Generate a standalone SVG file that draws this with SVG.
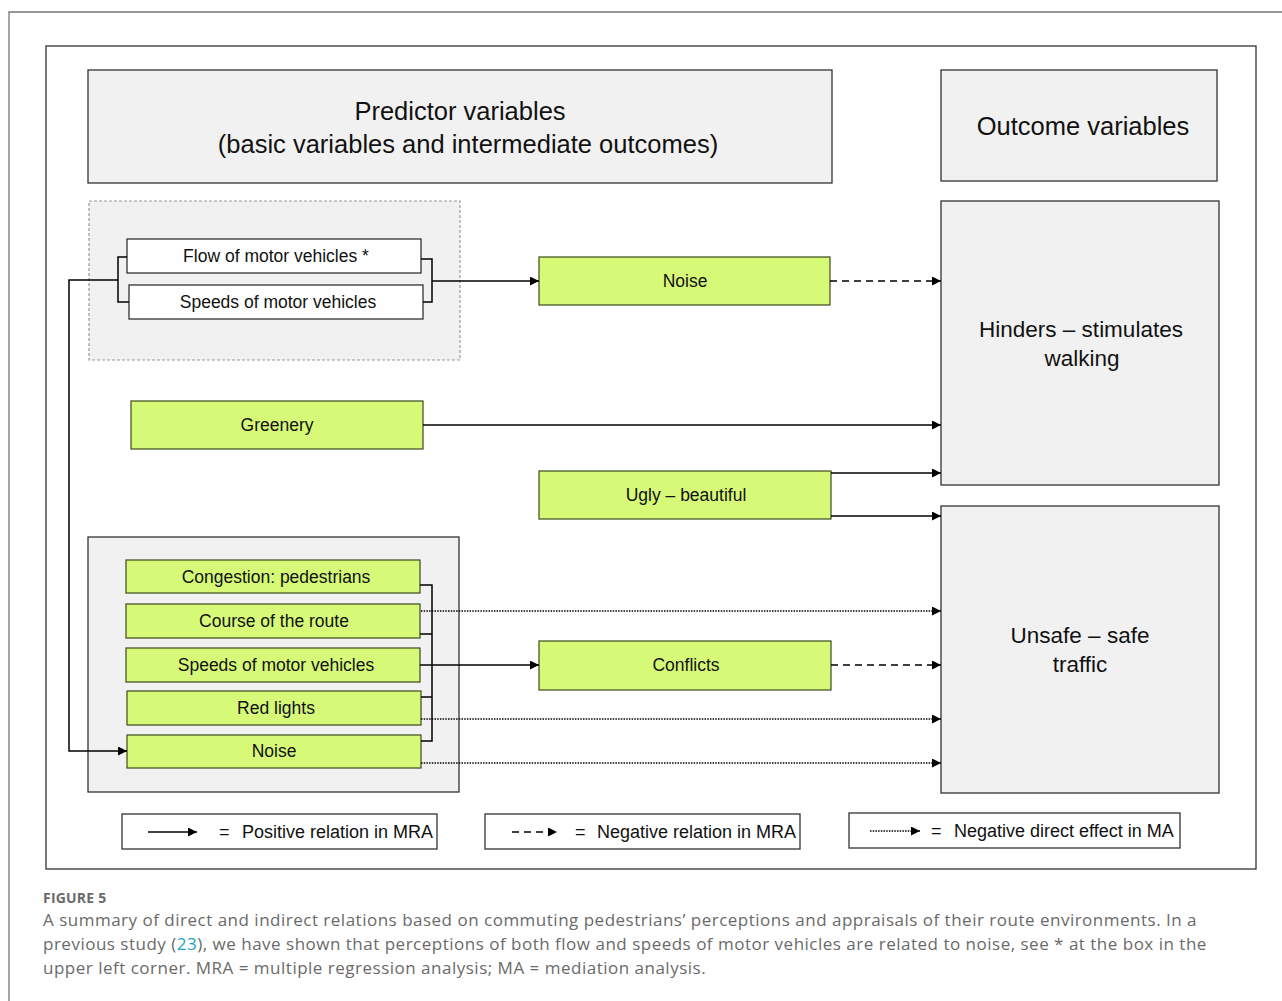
<svg xmlns="http://www.w3.org/2000/svg" width="1282" height="1001" viewBox="0 0 1282 1001">
<style>
.box{fill:#f1f1f1;stroke:#333;stroke-width:1.3}
.wbox{fill:#fff;stroke:#333;stroke-width:1.3}
.gbox{fill:#d6fa78;stroke:#3c4a1c;stroke-width:1.2}
.t{font-family:"Liberation Sans",Arial,sans-serif;fill:#111;text-anchor:middle}
.big{font-size:25.5px}
.mid{font-size:22.5px}
.n{font-size:17.5px}
.leg{font-size:18px;text-anchor:start}
.cap{font-family:"Open Sans","Liberation Sans",sans-serif;fill:#6a6a6a;font-size:17px;letter-spacing:0.5px}
.ln{fill:none;stroke:#000;stroke-width:1.5}
.dash{stroke-dasharray:7 5}
.dot{stroke-dasharray:1.5 1.2;stroke-width:1.3}
</style>
<defs>
<marker id="ah" viewBox="0 0 10 10" refX="10" refY="5" markerWidth="10" markerHeight="9" markerUnits="userSpaceOnUse" orient="auto">
<path d="M0,0 L10,5 L0,10 z" fill="#000"/>
</marker>
</defs>
<rect width="1282" height="1001" fill="#fff"/>
<path d="M9,1001 V12 H1282" fill="none" stroke="#777" stroke-width="1.3"/>
<rect x="46" y="46" width="1210" height="823" fill="#fff" stroke="#333" stroke-width="1.3"/>

<g id="predictor-header"><rect class="box" x="88" y="70" width="744" height="113"/>
<text class="t big" x="460" y="120">Predictor variables</text>
<text class="t big" x="468" y="153">(basic variables and intermediate outcomes)</text></g>
<g id="outcome-header"><rect class="box" x="941" y="70" width="276" height="111"/>
<text class="t big" x="1083" y="135">Outcome variables</text></g>

<g id="vehicles-group"><rect x="89" y="201" width="371" height="159" fill="#f1f1f1" stroke="#999" stroke-width="1.2" stroke-dasharray="3 2"/></g>
<g id="flow"><rect class="wbox" x="127" y="239" width="294" height="34"/><text class="t n" x="276" y="262">Flow of motor vehicles *</text></g>
<g id="speeds1"><rect class="wbox" x="129" y="285" width="294" height="34"/><text class="t n" x="278" y="308">Speeds of motor vehicles</text></g>
<g id="noise1"><rect class="gbox" x="539" y="257" width="291" height="48"/><text class="t n" x="685" y="287">Noise</text></g>
<g id="hinders"><rect class="box" x="941" y="201" width="278" height="284"/>
<text class="t mid" x="1081" y="337">Hinders – stimulates</text><text class="t mid" x="1082" y="366">walking</text></g>
<g id="greenery"><rect class="gbox" x="131" y="401" width="292" height="48"/><text class="t n" x="277" y="431">Greenery</text></g>
<g id="ugly"><rect class="gbox" x="539" y="471" width="292" height="48"/><text class="t n" x="686" y="501">Ugly – beautiful</text></g>
<g id="unsafe"><rect class="box" x="941" y="506" width="278" height="287"/>
<text class="t mid" x="1080" y="643">Unsafe – safe</text><text class="t mid" x="1080" y="672">traffic</text></g>
<g id="traffic-group"><rect class="box" x="88" y="537" width="371" height="255"/></g>
<g id="congestion"><rect class="gbox" x="126" y="560" width="294" height="33"/><text class="t n" x="276" y="583">Congestion: pedestrians</text></g>
<g id="course"><rect class="gbox" x="126" y="604" width="294" height="34"/><text class="t n" x="274" y="627">Course of the route</text></g>
<g id="speeds2"><rect class="gbox" x="126" y="648" width="294" height="34"/><text class="t n" x="276" y="671">Speeds of motor vehicles</text></g>
<g id="redlights"><rect class="gbox" x="127" y="691" width="294" height="34"/><text class="t n" x="276" y="714">Red lights</text></g>
<g id="noise2"><rect class="gbox" x="127" y="735" width="294" height="33"/><text class="t n" x="274" y="757">Noise</text></g>
<g id="conflicts"><rect class="gbox" x="539" y="641" width="292" height="49"/><text class="t n" x="686" y="671">Conflicts</text></g>

<g id="connectors">
<path class="ln" d="M127,257 H118 V302 H129"/>
<path class="ln" d="M421,259 H432 V302 H423"/>
<path class="ln" d="M118,280 H69 V751 H127" marker-end="url(#ah)"/>
<path class="ln" d="M432,281 H539" marker-end="url(#ah)"/>
<path class="ln dash" d="M830,281 H941" marker-end="url(#ah)"/>
<path class="ln" d="M423,425 H941" marker-end="url(#ah)"/>
<path class="ln" d="M831,473 H941" marker-end="url(#ah)"/>
<path class="ln" d="M831,516 H941" marker-end="url(#ah)"/>
<path class="ln" d="M420,585 H432 V741 H421 M420,634 H432 M421,697 H432"/>
<path class="ln" d="M420,665 H539" marker-end="url(#ah)"/>
<path class="ln dash" d="M831,665 H941" marker-end="url(#ah)"/>
<path class="ln dot" d="M421,611 H941" marker-end="url(#ah)"/>
<path class="ln dot" d="M421,719 H941" marker-end="url(#ah)"/>
<path class="ln dot" d="M421,763 H941" marker-end="url(#ah)"/>
</g>

<g id="legend">
<rect class="wbox" x="122" y="814" width="315" height="35"/>
<path class="ln" d="M148,832 H197" marker-end="url(#ah)"/>
<text class="t leg" x="219" y="838">=</text>
<text class="t leg" x="242" y="838">Positive relation in MRA</text>
<rect class="wbox" x="485" y="814" width="315" height="35"/>
<path class="ln dash" d="M512,832 H557" marker-end="url(#ah)"/>
<text class="t leg" x="575" y="838">=</text>
<text class="t leg" x="597" y="838">Negative relation in MRA</text>
<rect class="wbox" x="849" y="813" width="331" height="35"/>
<path class="ln dot" d="M870,831 H920" marker-end="url(#ah)"/>
<text class="t leg" x="931" y="837">=</text>
<text class="t leg" x="954" y="837">Negative direct effect in MA</text>
</g>

<g id="caption">
<text class="cap" x="43" y="903" font-weight="bold" style="font-size:14px;letter-spacing:0.2px">FIGURE 5</text>
<text class="cap" x="43" y="926">A summary of direct and indirect relations based on commuting pedestrians’ perceptions and appraisals of their route environments. In a</text>
<text class="cap" x="43" y="950">previous study (<tspan fill="#1aa3c4">23</tspan>), we have shown that perceptions of both flow and speeds of motor vehicles are related to noise, see * at the box in the</text>
<text class="cap" x="43" y="974">upper left corner. MRA = multiple regression analysis; MA = mediation analysis.</text>
</g>
</svg>
